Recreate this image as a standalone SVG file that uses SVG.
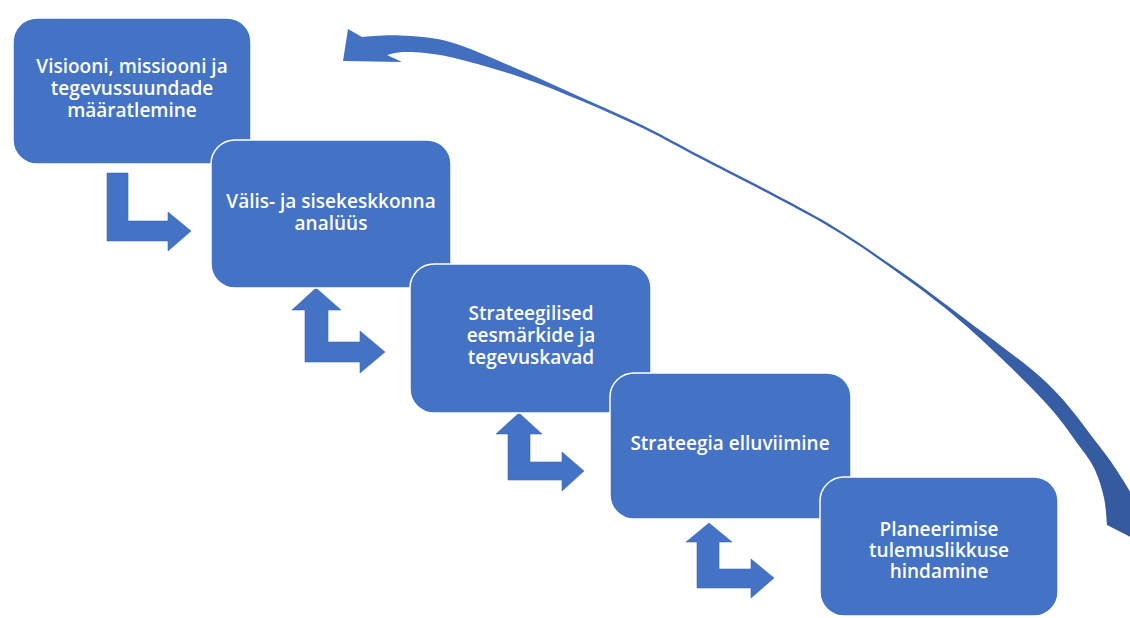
<svg xmlns="http://www.w3.org/2000/svg" width="1130" height="618" viewBox="0 0 1130 618">
<defs>
<style>
.box{fill:#4472C4;stroke:#FFFFFF;stroke-width:1.5}
.lbl{fill:#FFFFFF;font-family:"Open Sans","Liberation Sans",Arial,sans-serif;font-weight:600;font-size:19px;text-anchor:middle}
.bent{fill:#4472C4;stroke:#3F68B5;stroke-width:0.6}
</style>
<linearGradient id="cg" x1="340" y1="30" x2="1130" y2="540" gradientUnits="userSpaceOnUse">
<stop offset="0" stop-color="#4472C4"/>
<stop offset="1" stop-color="#34599E"/>
</linearGradient>
</defs>
<rect width="1130" height="618" fill="#FFFFFF"/>
<g id="connectors">
<path id="curved-arrow" fill="url(#cg)" d="M343,61 L348,29 L362,37
C368.3,36.75 385.3,34.7 400,35.5
C414.7,36.3 430,36.25 450,42
C470,47.75 497.8,60.6 520,70
C542.2,79.4 562.5,89.1 583,98.2
C603.5,107.3 623.5,116 643,125.6
C662.5,135.2 670.5,140.1 700,155.6
C729.5,171.1 786.7,199.3 820,218.6
C853.3,238 875.5,254.3 900,271.1
C924.5,288.3 942.5,302 967,320.5
C991.5,339 1024.8,362.2 1047,383
C1069.2,404.1 1087.3,430.8 1100,447
C1112.7,463.2 1116.3,469.5 1123,480
C1129.7,490.5 1137.2,505 1140,510
L1140,542 L1107,525
C1106.5,520.5 1106,507.2 1104,498
C1102,488.8 1099,478.5 1095,470
C1091,461.5 1088.7,458.7 1080,447
C1071.3,435.3 1061.7,419.9 1043,400
C1024.3,380.1 991.8,348.4 968,327.5
C944.2,306.6 924.7,292 900,274.3
C875.3,256.6 853.3,240.6 820,221.3
C786.7,202.3 729.5,173.8 700,158.3
C670.5,142.8 662.5,137.8 643,128.3
C623.5,119.2 603.5,110 583,101.5
C562.5,93 542.2,84.4 520,77
C497.8,69.6 468.8,61.2 450,57
C431.2,52.8 417.5,52.33 407,52
C396.5,51.7 390.3,54.5 387,55
L402,62 Z"/>
<polygon class="bent" points="107,173 128,173 128,221 168,221 168,212 191,231 168,251 168,241 107,241"/>
<polygon class="bent" points="316,288 341,310 328,310 328,342 360,342 360,331 385,352 360,373 360,362 305,362 305,310 292,310"/>
<polygon class="bent" points="519,413 542,434 530,434 530,462 562,462 562,452 584,471 562,491 562,480 508,480 508,434 496,434"/>
<polygon class="bent" points="709,523 732,542 719,542 719,569 751,569 751,559 774,578 751,598 751,588 697,588 697,542 686,542"/>
</g>
<g id="node1">
<rect class="box" x="13" y="18" width="238" height="146" rx="24"/>
<text class="lbl" x="132" y="73">Visiooni, missiooni ja</text>
<text class="lbl" x="132" y="95">tegevussuundade</text>
<text class="lbl" x="132" y="117">määratlemine</text>
</g>
<g id="node2">
<rect class="box" x="211" y="140" width="240" height="148" rx="24"/>
<text class="lbl" x="331" y="208">Välis- ja sisekeskkonna</text>
<text class="lbl" x="331" y="230">analüüs</text>
</g>
<g id="node3">
<rect class="box" x="410" y="264" width="241" height="149" rx="24"/>
<text class="lbl" x="531" y="320">Strateegilised</text>
<text class="lbl" x="531" y="342">eesmärkide ja</text>
<text class="lbl" x="531" y="364">tegevuskavad</text>
</g>
<g id="node4">
<rect class="box" x="610" y="373" width="241" height="146" rx="24"/>
<text class="lbl" x="730" y="450">Strateegia elluviimine</text>
</g>
<g id="node5">
<rect class="box" x="820" y="477" width="238" height="139" rx="24"/>
<text class="lbl" x="939" y="536">Planeerimise</text>
<text class="lbl" x="939" y="557">tulemuslikkuse</text>
<text class="lbl" x="939" y="578">hindamine</text>
</g>
</svg>
